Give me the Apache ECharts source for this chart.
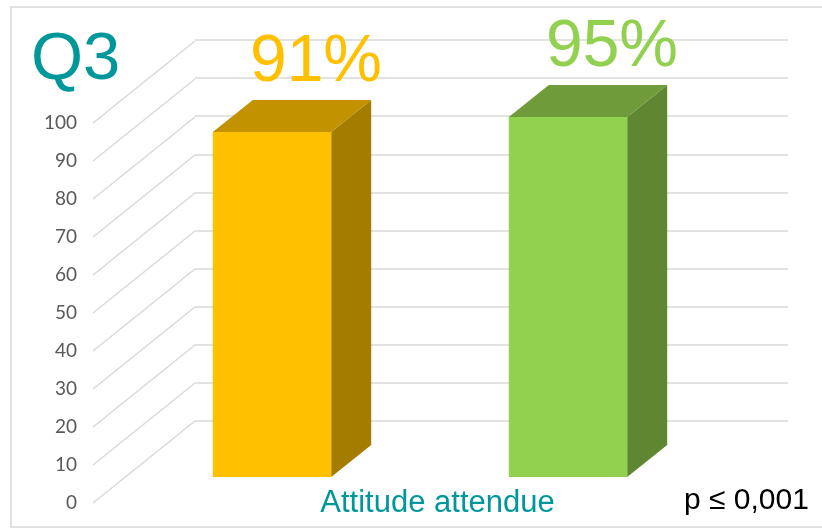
<!DOCTYPE html>
<html><head><meta charset="utf-8">
<script src="https://cdn.jsdelivr.net/npm/echarts@6/dist/echarts.min.js"></script>
<style>html,body{margin:0;padding:0;background:#fff}#c{width:822px;height:530px}</style>
</head><body><div id="c"></div>
<script>
// ---- data ----
const categories = ['Attitude attendue'];
const yTicks = [0, 10, 20, 30, 40, 50, 60, 70, 80, 90, 100];
const series1Values = [91];
const series2Values = [95];
const pValueText = 'p ≤ 0,001';
const titleText = 'Q3';

// ---- styles ----
const frontColors = ['#FFC000', '#92D050'];
const topColors = ['#C29200', '#6F9B3B'];
const sideColors = ['#A37C00', '#5F8731'];
const teal = '#00979B';
const gridColor = '#D9D9D9';
const DEPTH = [40, -32];   // bar depth (px)
const WALL = [102, -82];   // floor depth (px)
const FONT = 'Liberation Sans, Arial, sans-serif';

const chart = echarts.init(document.getElementById('c'), null, {renderer: 'canvas'});

function diagRender(params, api) {
  const y = api.coord([0, api.value(1)])[1];
  const x = params.coordSys.x;
  return {
    type: 'line',
    shape: {x1: x, y1: y, x2: x + WALL[0], y2: y + WALL[1]},
    style: {stroke: gridColor, lineWidth: 1.5}
  };
}

function barRender(s) {
  return function (params, api) {
    const cat = api.value(0), v = api.value(1);
    const base = api.coord([cat, 0]);
    const top = api.coord([cat, v]);
    const band = api.size([1, 0])[0];
    const cx = base[0] + (s - 0.5) * band * 0.5;
    const w = band * 0.2;
    const x0 = cx - w / 2, x1 = cx + w / 2;
    const ty = top[1], by = base[1];
    const dx = DEPTH[0], dy = DEPTH[1];
    return {
      type: 'group',
      children: [
        {type: 'polygon', shape: {points: [[x1, ty], [x1 + dx, ty + dy], [x1 + dx, by + dy], [x1, by]]},
         style: {fill: sideColors[s]}},
        {type: 'polygon', shape: {points: [[x0, ty], [x1, ty], [x1 + dx, ty + dy], [x0 + dx, ty + dy]]},
         style: {fill: topColors[s]}},
        {type: 'rect', shape: {x: x0, y: ty, width: w, height: by - ty},
         style: {fill: frontColors[s]}},
        {type: 'text', x: cx + 44, y: ty - 36,
         style: {text: v + '%', fill: frontColors[s], font: '66px ' + FONT, align: 'center', verticalAlign: 'bottom'}}
      ]
    };
  };
}

const option = {
  animation: false,
  backgroundColor: '#ffffff',
  title: [
    {text: titleText, left: 31, top: 27, padding: 0,
     textStyle: {color: teal, fontSize: 67, fontWeight: 'normal', fontFamily: FONT}},
    {text: pValueText, left: 684, top: 486, padding: 0,
     textStyle: {color: '#000000', fontSize: 30, fontWeight: 'normal', fontFamily: FONT}}
  ],
  graphic: [
    {type: 'rect', z: -10, shape: {x: 11, y: 7, width: 840, height: 520},
     style: {fill: 'none', stroke: gridColor, lineWidth: 1.5}}
  ],
  grid: [
    {left: 93, top: 123, width: 689, height: 380},
    {left: 195, top: 40, width: 593, height: 381},
    {left: 124, top: 98, width: 592, height: 379}
  ],
  xAxis: [
    {gridIndex: 0, type: 'category', data: categories,
     axisLine: {show: false}, axisTick: {show: false},
     axisLabel: {show: true, margin: -15, color: teal, fontSize: 31, fontFamily: FONT}},
    {gridIndex: 1, type: 'value', min: 0, max: 1, show: false},
    {gridIndex: 2, type: 'category', data: categories, show: false}
  ],
  yAxis: [
    {gridIndex: 0, type: 'value', min: 0, max: 100, interval: 10,
     axisLine: {show: false}, axisTick: {show: false}, splitLine: {show: false},
     axisLabel: {color: '#595959', fontSize: 19, fontFamily: 'Lato, sans-serif', margin: 16}},
    {gridIndex: 1, type: 'value', min: 0, max: 100, interval: 10,
     axisLine: {show: false}, axisTick: {show: false}, axisLabel: {show: false},
     splitLine: {show: true, lineStyle: {color: gridColor, width: 1.5}}},
    {gridIndex: 2, type: 'value', min: 0, max: 100, interval: 10, show: false}
  ],
  series: [
    {type: 'custom', xAxisIndex: 0, yAxisIndex: 0, z: 1, silent: true,
     renderItem: diagRender, data: yTicks.map(v => [0, v])},
    {type: 'custom', xAxisIndex: 2, yAxisIndex: 2, z: 5, silent: true,
     renderItem: barRender(0), data: series1Values.map((v, i) => [i, v])},
    {type: 'custom', xAxisIndex: 2, yAxisIndex: 2, z: 5, silent: true,
     renderItem: barRender(1), data: series2Values.map((v, i) => [i, v])}
  ]
};
chart.setOption(option);
</script>
</body></html>
